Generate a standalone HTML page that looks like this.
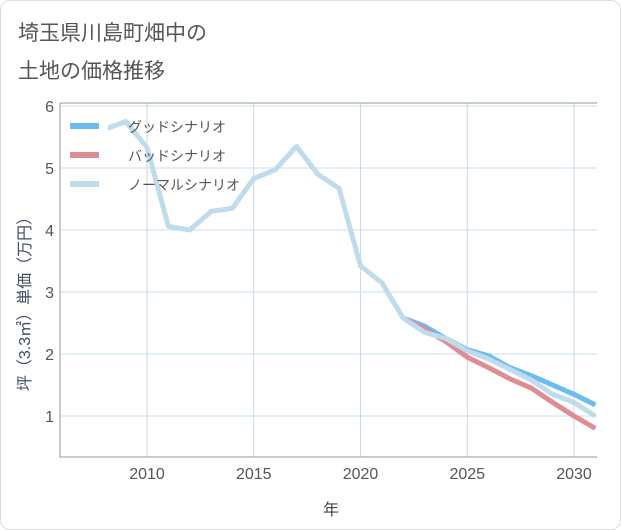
<!DOCTYPE html>
<html><head><meta charset="utf-8"><style>
body{margin:0;background:#fff;font-family:"Liberation Sans","Noto Sans CJK JP",sans-serif}
#card{position:absolute;left:0;top:0;width:619px;height:528px;border:1px solid #ddd;border-radius:10px;background:#fff}
</style></head><body>
<div id="card"></div>
<svg id="c" width="621" height="530" style="position:absolute;left:0;top:0">
<text x="18" y="40" font-size="21" fill="#555">埼玉県川島町畑中の</text>
<text x="18" y="78" font-size="21" fill="#555">土地の価格推移</text>
<text x="331" y="515" font-size="16" fill="#444" text-anchor="middle">年</text>
<text transform="translate(30,300) rotate(-90)" font-size="16" fill="#3d4f63" text-anchor="middle">坪（3.3㎡）単価（万円）</text>
<g id="grid"></g><g id="series"></g><g id="legend"></g>
</svg>
<script>
const years=[2008,2009,2010,2011,2012,2013,2014,2015,2016,2017,2018,2019,2020,2021,2022,2023,2024,2025,2026,2027,2028,2029,2030,2031];
const normal=[5.62,5.75,5.33,4.06,4.0,4.3,4.35,4.83,4.97,5.35,4.9,4.67,3.42,3.15,2.58,2.35,2.25,2.05,1.92,1.75,1.58,1.35,1.22,1.0];
const futureYears=[2022,2023,2024,2025,2026,2027,2028,2029,2030,2031];
const good=[2.58,2.45,2.25,2.07,1.97,1.78,1.65,1.5,1.35,1.18];
const bad=[2.58,2.4,2.2,1.95,1.78,1.6,1.45,1.22,1.0,0.8];
const yTicks=[1,2,3,4,5,6];
const xTicks=[2010,2015,2020,2025,2030];
const NS="http://www.w3.org/2000/svg";
const L=60,R=597,T=103,B=457;
const xs=y=>147+(y-2010)*21.35;
const ys=v=>478-v*62;
function mk(tag,attrs,parent){const e=document.createElementNS(NS,tag);for(const k in attrs)e.setAttribute(k,attrs[k]);parent.appendChild(e);return e;}
const g=document.getElementById('grid');
for(const t of yTicks){
 const l=mk('line',{x1:L,x2:R,y1:ys(t),y2:ys(t),stroke:'#c5dfe9','stroke-width':1},g);
 
 
 const tx=mk('text',{x:L-6,y:ys(t)+6,'text-anchor':'end','font-size':16,fill:'#555'},g);tx.textContent=t;
 
 
}
for(const t of xTicks){
 const l=mk('line',{x1:xs(t),x2:xs(t),y1:T,y2:B,stroke:'#c9d9e6','stroke-width':1},g);
 
 
 const tx=mk('text',{x:xs(t),y:B+22,'text-anchor':'middle','font-size':16,fill:'#555'},g);tx.textContent=t;
 
 
}
const ax=mk('path',{d:`M${L},${T}V${B}H${R}`,fill:'none',stroke:'#999','stroke-width':1},g);


const tp=mk('line',{x1:L,x2:R,y1:T,y2:T,stroke:'#999'},g);


const s=document.getElementById('series');
const cp=mk('clipPath',{id:'clip'},s);mk('rect',{x:L,y:T,width:R-L,height:B-T},cp);
function line(xv,yv,color,name){
 const p=mk('polyline',{points:xv.map((x,i)=>xs(x)+','+ys(yv[i])).join(' '),fill:'none',stroke:color,'stroke-width':5,'stroke-linejoin':'round','clip-path':'url(#clip)'},s);
 
 
}
line(futureYears,good,'#6bbcf0','good-scenario-line');
line(futureYears,bad,'#e08c94','bad-scenario-line');
line(years,normal,'#c0dceb','normal-scenario-line');
const lg=document.getElementById('legend');
const items=[['グッドシナリオ','#6bbcf0','legend-good'],['バッドシナリオ','#e08c94','legend-bad'],['ノーマルシナリオ','#c0dceb','legend-normal']];
items.forEach((it,i)=>{
 const y=126+i*29;
 const gg=mk('g',{},lg);
 
 
 mk('rect',{x:64,y:y-12,width:44,height:22,fill:'#fff'},gg);
 mk('line',{x1:70,x2:99,y1:y,y2:y,stroke:it[1],'stroke-width':6},gg);
 const t=mk('text',{x:128,y:y+6,'font-size':14,fill:'#555'},gg);t.textContent=it[0];
});
</script>
</body></html>
